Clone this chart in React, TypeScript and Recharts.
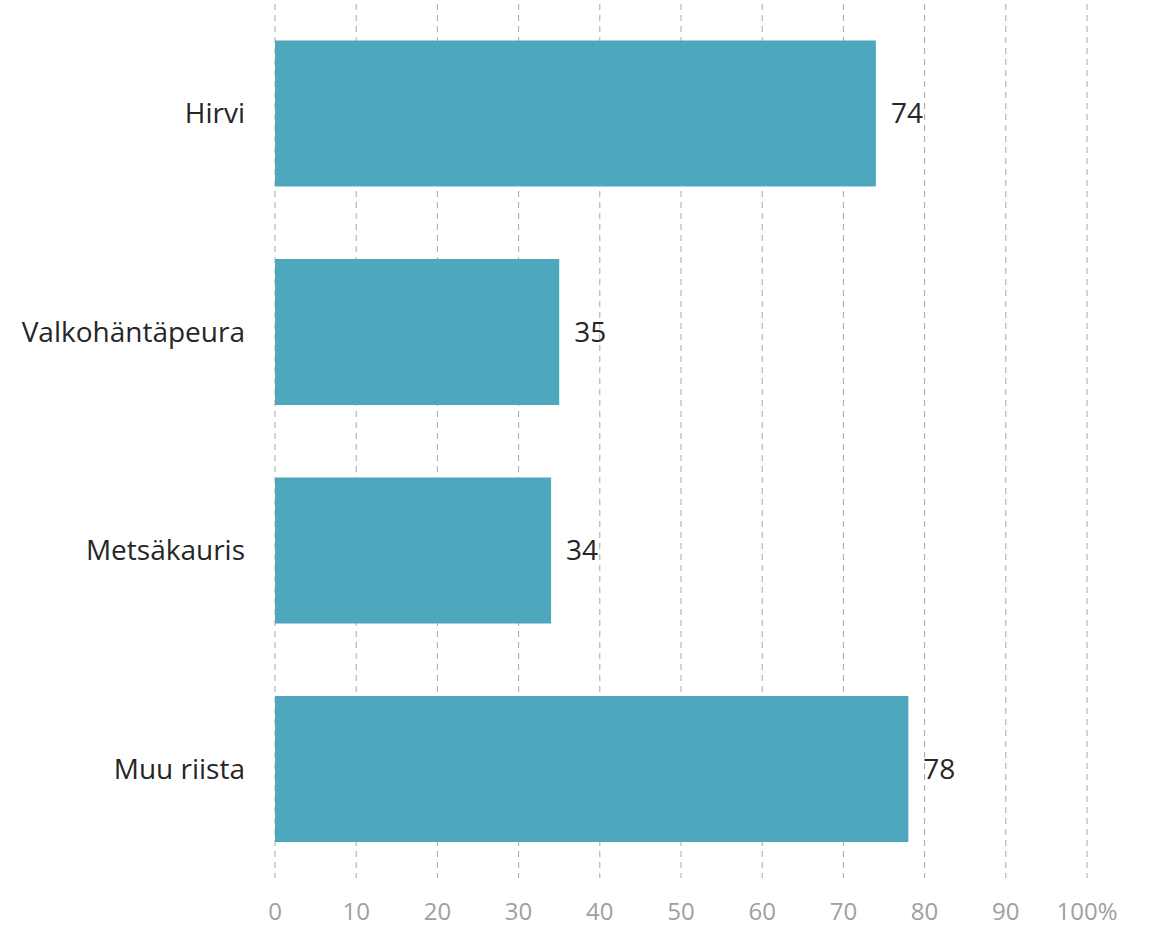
import React from 'react';
import { BarChart, Bar, XAxis, YAxis, CartesianGrid, LabelList } from 'recharts';

const categories = ['Hirvi', 'Valkohäntäpeura', 'Metsäkauris', 'Muu riista'];
const values = [74, 35, 34, 78];
const xTicks = [0, 10, 20, 30, 40, 50, 60, 70, 80, 90, 100];

const data = categories.map((name, i) => ({ name, value: values[i] }));

const font = '"Open Sans", "Noto Sans", sans-serif';

export default function App() {
    return (
        <div style={{ position: 'absolute', left: 0, top: 0, background: '#fff' }}>
            <BarChart
                width={1152}
                height={930}
                data={data}
                layout="vertical"
                barCategoryGap="16.7%"
                margin={{ top: 4, right: 65, bottom: 0, left: 0 }}
            >
                <CartesianGrid vertical horizontal={false} stroke="#a6a6a6" strokeDasharray="6 5" />
                <XAxis
                    type="number"
                    domain={[0, 100]}
                    ticks={xTicks}
                    interval={0}
                    axisLine={false}
                    tickLine={false}
                    tickMargin={19}
                    height={52}
                    tick={{ fill: '#a0a0a0', fontSize: 24, fontFamily: font }}
                    tickFormatter={(v: number) => (v === 100 ? '100%' : String(v))}
                />
                <YAxis
                    type="category"
                    dataKey="name"
                    width={275}
                    axisLine={false}
                    tickLine={false}
                    tickMargin={24}
                    tick={{ fill: '#262626', fontSize: 28, fontFamily: font }}
                />
                <Bar dataKey="value" fill="#4ea8bd" isAnimationActive={false}>
                    <LabelList
                        dataKey="value"
                        position="right"
                        offset={15}
                        fill="#262626"
                        fontSize={28}
                        fontFamily={font}
                    />
                </Bar>
            </BarChart>
        </div>
    );
}
